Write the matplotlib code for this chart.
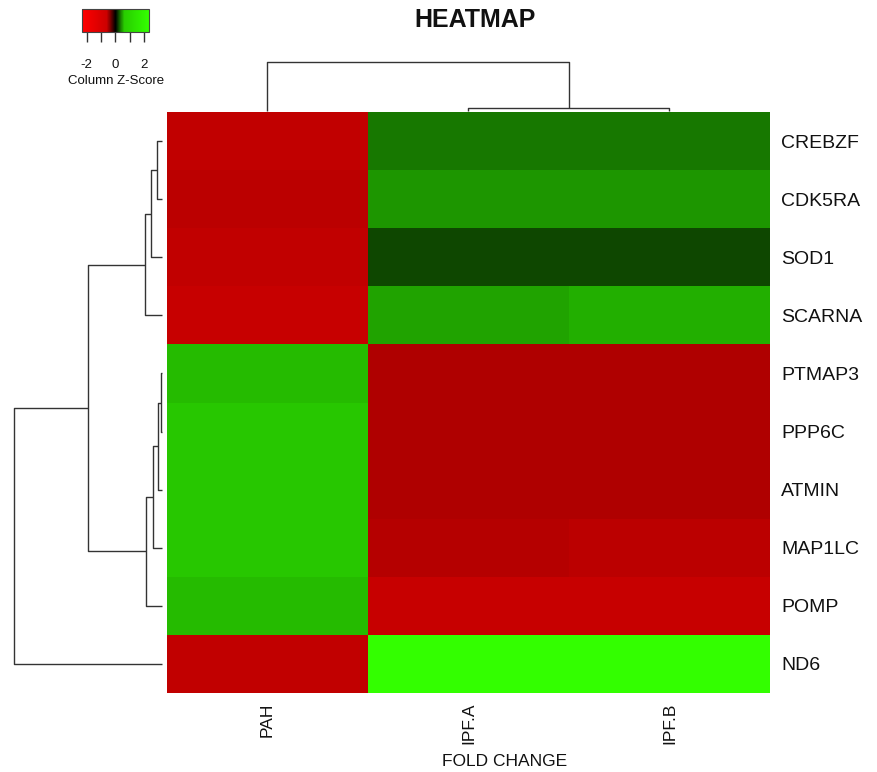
import matplotlib
matplotlib.use('Agg')
import matplotlib.pyplot as plt
import numpy as np
from matplotlib.colors import LinearSegmentedColormap, Normalize

plt.rcParams['font.family'] = ['Liberation Sans', 'DejaVu Sans']

# ---------------- data ----------------
genes = ['CREBZF', 'CDK5RA', 'SOD1', 'SCARNA', 'PTMAP3',
         'PPP6C', 'ATMIN', 'MAP1LC', 'POMP', 'ND6']
samples = ['PAH', 'IPF.A', 'IPF.B']
pah   = [-0.571, -0.550, -0.571, -0.591, 0.556, 0.585, 0.585, 0.585, 0.541, -0.571]
ipf_a = [0.342, 0.445, 0.205, 0.483, -0.512, -0.512, -0.512, -0.536, -0.585, 2.30]
ipf_b = [0.342, 0.445, 0.205, 0.512, -0.512, -0.512, -0.512, -0.550, -0.585, 2.30]

# hierarchical merges: (child_a, child_b, height); leaves are 0..n-1
row_merges = [(0, 1, 5.3), (10, 2, 11.0), (11, 3, 17.3), (4, 5, 1.0), (13, 6, 3.7),
              (14, 7, 8.7), (15, 8, 16.0), (12, 16, 73.7), (17, 9, 148.0)]
col_merges = [(1, 2, 3.0), (0, 3, 49.0)]

key_range = (-2.3, 2.3)
key_ticks = [-2, -1, 0, 1, 2]
key_ticklabels = ['-2', '', '0', '', '2']

# ---------------- figure ----------------
W, H = 878, 772
fig = plt.figure(figsize=(W / 100, H / 100), dpi=100)


def box(x0, y0, x1, y1):
    return [x0 / W, 1 - y1 / H, (x1 - x0) / W, (y1 - y0) / H]


vmin, vmax = key_range
norm = Normalize(vmin=vmin, vmax=vmax)
nodes = [(-2.3, (1.0, 0.0, 0.0)), (-0.6, (0.80, 0.0, 0.0)), (0.0, (0.0, 0.0, 0.0)),
         (0.6, (0.157, 0.80, 0.0)), (2.3, (0.20, 1.0, 0.0))]
cmap = LinearSegmentedColormap.from_list('rg', [(float(norm(v)), c) for v, c in nodes])

data = np.array([pah, ipf_a, ipf_b]).T

# heatmap
ax = fig.add_axes(box(167, 112, 770, 693))
mesh = ax.pcolormesh(np.arange(len(samples) + 1), np.arange(len(genes) + 1), data,
                     cmap=cmap, norm=norm, edgecolors='none', antialiased=False)
ax.set_xlim(0, len(samples))
ax.set_ylim(len(genes), 0)
for s in ax.spines.values():
    s.set_visible(False)
ax.yaxis.tick_right()
ax.set_yticks(np.arange(len(genes)) + 0.5)
ax.set_yticklabels(genes, fontsize=14, color='#111111')
ax.set_xticks(np.arange(len(samples)) + 0.5)
ax.set_xticklabels(samples, fontsize=12.5, rotation=90, va='top', color='#111111')
ax.tick_params(axis='y', length=0, pad=8)
ax.tick_params(axis='x', length=0, pad=7)


def draw_dendro(axd, merges, n, orient):
    pos = {i: i + 0.5 for i in range(n)}
    hgt = {i: 0.0 for i in range(n)}
    for k, (a, b, h) in enumerate(merges):
        pa, pb, ha, hb = pos[a], pos[b], hgt[a], hgt[b]
        hs = [ha, h, h, hb]
        ps = [pa, pa, pb, pb]
        if orient == 'left':
            axd.plot(hs, ps, color='#333333', lw=1.0, clip_on=False, solid_capstyle='butt')
        else:
            axd.plot(ps, hs, color='#333333', lw=1.0, clip_on=False, solid_capstyle='butt')
        pos[n + k] = (pa + pb) / 2
        hgt[n + k] = h
    return max(hgt.values())


# left dendrogram
axl = fig.add_axes(box(14, 112, 162, 693))
top_h = draw_dendro(axl, row_merges, len(genes), 'left')
axl.set_xlim(top_h, 0)
axl.set_ylim(len(genes), 0)
axl.axis('off')

# top dendrogram
axt = fig.add_axes(box(167, 62, 770, 111))
top_c = draw_dendro(axt, col_merges, len(samples), 'top')
axt.set_xlim(0, len(samples))
axt.set_ylim(0, top_c)
axt.axis('off')

# colour key
kax = fig.add_axes(box(82.3, 9, 148.7, 32.3))
cb = fig.colorbar(mesh, cax=kax, orientation='horizontal')
cb.set_ticks(key_ticks)
cb.set_ticklabels(key_ticklabels)
cb.outline.set_edgecolor('#444444')
cb.outline.set_linewidth(0.8)
kax.tick_params(axis='x', length=7.2, width=1.0, color='#333333', labelsize=9.5,
                pad=12, labelcolor='#111111')
fig.text(116 / W, 1 - 81 / H, 'Column Z-Score', fontsize=9.5, ha='center', va='center',
         color='#111111')

# titles
fig.text(475 / W, 1 - 20 / H, 'HEATMAP', fontsize=18, fontweight='bold', ha='center',
         va='center', color='#111111')
fig.text(505 / W, 1 - 761 / H, 'FOLD CHANGE', fontsize=12.5, ha='center', va='center',
         color='#111111')

fig.savefig('out.png', dpi=100, facecolor='white')
